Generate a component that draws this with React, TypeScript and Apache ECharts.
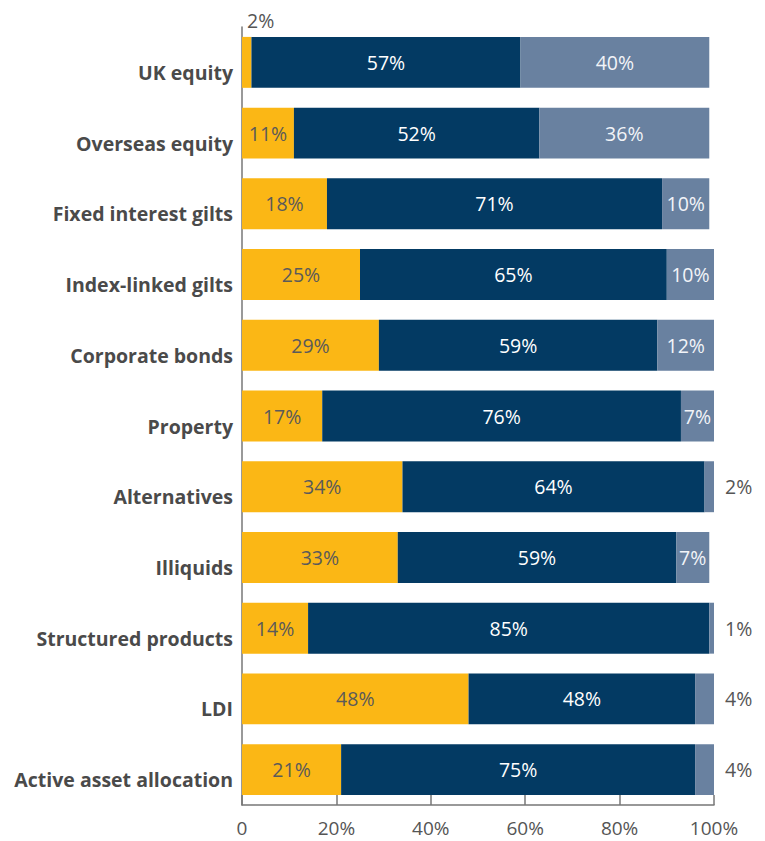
import React, { useEffect, useRef } from "react";
import * as echarts from "echarts";

const categories = [
  "UK equity",
  "Overseas equity",
  "Fixed interest gilts",
  "Index-linked gilts",
  "Corporate bonds",
  "Property",
  "Alternatives",
  "Illiquids",
  "Structured products",
  "LDI",
  "Active asset allocation",
];
const yellowValues = [2, 11, 18, 25, 29, 17, 34, 33, 14, 48, 21];
const navyValues = [57, 52, 71, 65, 59, 76, 64, 59, 85, 48, 75];
const greyValues = [40, 36, 10, 10, 12, 7, 2, 7, 1, 4, 4];
const xTicks = [0, 20, 40, 60, 80, 100];

const FONT = "'Open Sans', 'Noto Sans', sans-serif";

export default function App() {
  const ref = useRef<HTMLDivElement>(null);
  useEffect(() => {
    if (!ref.current) return;
    const chart = echarts.init(ref.current, undefined, { renderer: "svg" });
    const labelBase = { fontFamily: FONT, fontSize: 19.5 };
    const yellowData = yellowValues.map((v) =>
      v < 5
        ? {
            value: v,
            label: {
              show: true,
              position: [5, -16] as any,
              align: "left",
              verticalAlign: "middle",
              color: "#555555",
              ...labelBase,
            },
          }
        : v
    );
    const greyData = greyValues.map((v) =>
      v < 5
        ? {
            value: v,
            label: {
              show: true,
              position: "right",
              distance: 11,
              color: "#555555",
              ...labelBase,
            },
          }
        : v
    );
    chart.setOption({
      animation: false,
      grid: { left: 242, right: 51, top: 27, height: 778, containLabel: false },
      xAxis: {
        type: "value",
        min: 0,
        max: 100,
        interval: 20,
        axisLine: { show: true, lineStyle: { color: "#777777", width: 1.5 } },
        axisTick: { show: true, inside: true, length: 10, lineStyle: { color: "#777777", width: 1.5 } },
        splitLine: { show: false },
        axisLabel: {
          color: "#555555",
          fontFamily: FONT,
          fontSize: 19,
          margin: 13,
          formatter: (v: number) => (xTicks.includes(v) ? (v === 0 ? "0" : v + "%") : ""),
        },
      },
      yAxis: {
        type: "category",
        data: categories,
        inverse: true,
        axisLine: { show: true, lineStyle: { color: "#777777", width: 1.5 } },
        axisTick: { show: false },
        axisLabel: {
          color: "#4a4a4a",
          fontFamily: FONT,
          fontSize: 19.5,
          fontWeight: "bold",
          margin: 9,
          verticalAlign: "top",
        },
      },
      series: [
        {
          name: "yellow",
          type: "bar",
          stack: "s",
          barCategoryGap: "28%",
          data: yellowData,
          itemStyle: { color: "#FBB715" },
          label: {
            show: true,
            position: "inside",
            color: "#5a5a5a",
            formatter: "{c}%",
            ...labelBase,
          },
        },
        {
          name: "navy",
          type: "bar",
          stack: "s",
          data: navyValues,
          itemStyle: { color: "#033A63" },
          label: {
            show: true,
            position: "inside",
            color: "#ffffff",
            formatter: "{c}%",
            ...labelBase,
          },
        },
        {
          name: "grey",
          type: "bar",
          stack: "s",
          data: greyData,
          itemStyle: { color: "#6981A0" },
          label: {
            show: true,
            position: "inside",
            color: "#f2f4f8",
            formatter: "{c}%",
            ...labelBase,
          },
        },
      ],
    });
    return () => chart.dispose();
  }, []);
  return <div ref={ref} style={{ width: 765, height: 841, position: "absolute", left: 0, top: 0 }} />;
}
